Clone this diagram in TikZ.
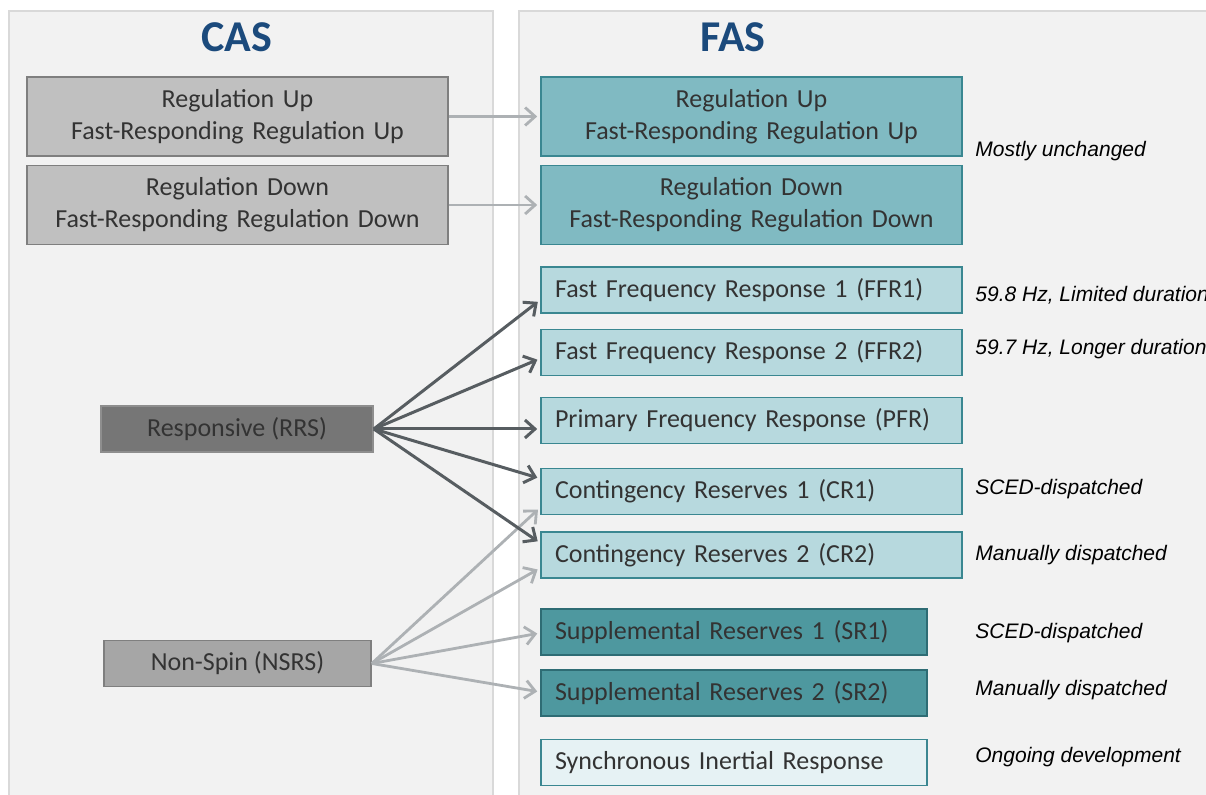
\documentclass[tikz,border=0pt]{standalone}
\usepackage{fontspec}
\setmainfont{Carlito}
\newfontfamily\notefont{Liberation Sans}
\usepackage{xcolor}
\usepackage{tikz}
\usetikzlibrary{arrows.meta, calc}
\definecolor{panel-fill}{HTML}{F2F2F2}
\definecolor{panel-line}{HTML}{D9D9D9}
\definecolor{title-color}{HTML}{1B4A7C}
\definecolor{text-color}{HTML}{333333}
\definecolor{cas-fill}{HTML}{C0C0C0}
\definecolor{cas-line}{HTML}{7F7F7F}
\definecolor{rrs-fill}{HTML}{767676}
\definecolor{rrs-line}{HTML}{8E8E8E}
\definecolor{nsrs-fill}{HTML}{A6A6A6}
\definecolor{reg-fill}{HTML}{80BAC2}
\definecolor{light-fill}{HTML}{B7D9DE}
\definecolor{dark-fill}{HTML}{4E989F}
\definecolor{pale-fill}{HTML}{E6F2F4}
\definecolor{teal-line}{HTML}{3A8791}
\definecolor{arrow-dark}{HTML}{575D61}
\definecolor{arrow-light}{HTML}{ADB1B4}
\tikzset{
    panel/.style = {fill=panel-fill, draw=panel-line, line width=1pt},
    title/.style = {font=\fontsize{22}{26}\selectfont\bfseries, text=title-color},
    box/.style = {draw, line width=0.8pt, inner xsep=7pt, inner ysep=0pt,
        text=text-color, font=\fontsize{13}{16}\selectfont},
    regbox/.style = {box, text width=196.5pt, align=center, minimum height=39.5pt},
    fasbox/.style = {box, text width=196.5pt, align=left, minimum height=23pt},
    srbox/.style = {box, text width=179pt, align=left, minimum height=23pt},
    casbox/.style = {box, align=center, minimum height=23pt},
    note/.style = {anchor=west, inner sep=0pt, font=\notefont\itshape\fontsize{10.5}{12}\selectfont},
    heavy/.style = {draw=arrow-dark, line width=1.5pt, shorten >=1.5pt,
        -{Straight Barb[length=5pt,width=9pt,line width=1.5pt]}},
    light/.style = {draw=arrow-light, line width=1.4pt, shorten >=1.5pt,
        -{Straight Barb[length=5pt,width=9pt,line width=1.4pt]}},
}

\begin{document}
\begin{tikzpicture}[x=0.5pt,y=-0.5pt]
    \useasboundingbox (0,0) rectangle (1206,795);

    % panels
    \draw[panel] (9,11) rectangle (493,805);
    \draw[panel] (519,11) rectangle (1215,805);
    \node[title] (cas) at (237,37) {CAS};
    \node[title] (fas) at (733,37) {FAS};

    % CAS side
    \node[regbox, fill=cas-fill, draw=cas-line] (casup) at (237.5,116.5)
        {Regulation Up\\Fast-Responding Regulation Up};
    \node[regbox, fill=cas-fill, draw=cas-line] (casdn) at (237.5,205)
        {Regulation Down\\Fast-Responding Regulation Down};
    \node[casbox, fill=rrs-fill, draw=rrs-line, minimum width=136pt] (rrs) at (237,429)
        {Responsive (RRS)};
    \node[casbox, fill=nsrs-fill, draw=cas-line, minimum width=133.5pt] (nsrs) at (237.5,663.5)
        {Non-Spin (NSRS)};

    % FAS side
    \node[regbox, fill=reg-fill, draw=teal-line] (fasup) at (751.5,116.5)
        {Regulation Up\\Fast-Responding Regulation Up};
    \node[regbox, fill=reg-fill, draw=teal-line] (fasdn) at (751.5,205)
        {Regulation Down\\Fast-Responding Regulation Down};
    \node[fasbox, fill=light-fill, draw=teal-line] (ffr1) at (751.5,290) {Fast Frequency Response 1 (FFR1)};
    \node[fasbox, fill=light-fill, draw=teal-line] (ffr2) at (751.5,352.5) {Fast Frequency Response 2 (FFR2)};
    \node[fasbox, fill=light-fill, draw=teal-line] (pfr) at (751.5,420.5) {Primary Frequency Response (PFR)};
    \node[fasbox, fill=light-fill, draw=teal-line] (cr1) at (751.5,491.5) {Contingency Reserves 1 (CR1)};
    \node[fasbox, fill=light-fill, draw=teal-line] (cr2) at (751.5,555) {Contingency Reserves 2 (CR2)};
    \node[srbox, fill=dark-fill, draw=teal-line!80!black] (sr1) at (734,632) {Supplemental Reserves 1 (SR1)};
    \node[srbox, fill=dark-fill, draw=teal-line!80!black] (sr2) at (734,693) {Supplemental Reserves 2 (SR2)};
    \node[srbox, fill=pale-fill, draw=teal-line] (sir) at (734,762.5) {Synchronous Inertial Response};

    % notes
    \node[note] (n-reg) at (975,151) {Mostly unchanged};
    \node[note] (n-ffr1) at (975,295) {59.8 Hz, Limited duration};
    \node[note] (n-ffr2) at (975,349) {59.7 Hz, Longer duration};
    \node[note] (n-cr1) at (975,489) {SCED-dispatched};
    \node[note] (n-cr2) at (975,555) {Manually dispatched};
    \node[note] (n-sr1) at (975,633) {SCED-dispatched};
    \node[note] (n-sr2) at (975,690) {Manually dispatched};
    \node[note] (n-sir) at (975,757) {Ongoing development};

    % arrows
    \draw[light] (casup) -- (fasup);
    \draw[light] (casdn) -- (fasdn);

    \draw[light] (nsrs.east) -- ($(cr1.west)+(0,16)$);
    \draw[light] (nsrs.east) -- ($(cr2.west)+(0,13)$);
    \draw[light] (nsrs.east) -- ($(sr1.west)+(0,1)$);
    \draw[light] (nsrs.east) -- ($(sr2.west)+(0,-1)$);

    \draw[heavy] (rrs.east) -- ($(ffr1.west)+(0,10)$);
    \draw[heavy] (rrs.east) -- ($(ffr2.west)+(0,6)$);
    \draw[heavy] (rrs.east) -- (rrs.east -| pfr.west);
    \draw[heavy] (rrs.east) -- ($(cr1.west)+(0,-13)$);
    \draw[heavy] (rrs.east) -- ($(cr2.west)+(0,-12)$);
\end{tikzpicture}
\end{document}
